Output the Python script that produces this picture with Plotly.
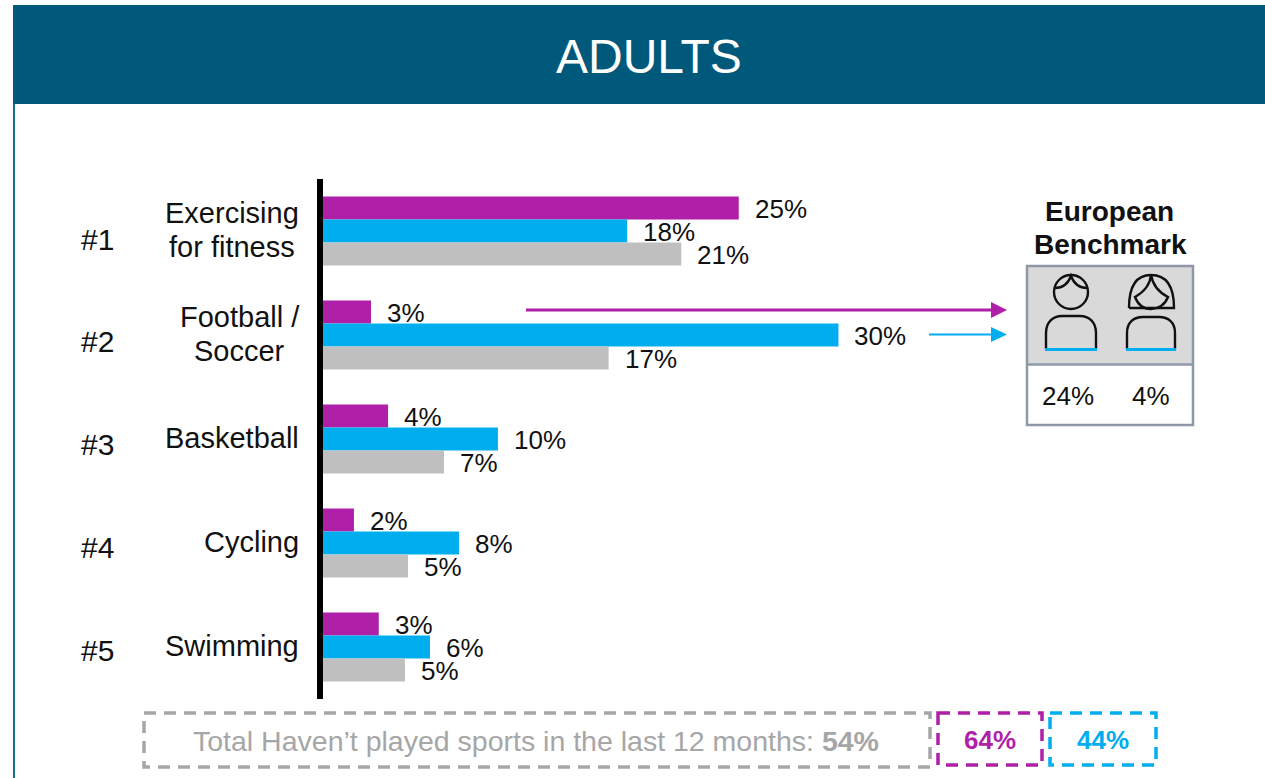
import plotly.graph_objects as go

categories = ["Exercising<br>for fitness", "Football /<br>Soccer", "Basketball", "Cycling", "Swimming"]
ranks = ["#1", "#2", "#3", "#4", "#5"]
purple_vals = [24.6, 2.84, 3.85, 1.83, 3.3]
blue_vals = [18.0, 30.5, 10.35, 8.05, 6.33]
gray_vals = [21.2, 16.9, 7.16, 5.03, 4.85]
purple_lbl = ["25%", "3%", "4%", "2%", "3%"]
blue_lbl = ["18%", "30%", "10%", "8%", "6%"]
gray_lbl = ["21%", "17%", "7%", "5%", "5%"]

W, H = 1265, 778
PURPLE, BLUE, GRAY = "#B01FA8", "#00AEEF", "#BFBFBF"
FONT = "Liberation Sans"
HEADER = "#00587A"
BORDER = "#8E98A8"
X = lambda p: p / W
Y = lambda p: 1 - p / H

fig = go.Figure()
for name, vals, col in [("Male", purple_vals, PURPLE), ("Female", blue_vals, BLUE), ("Total", gray_vals, GRAY)]:
    fig.add_bar(y=list(range(5)), x=vals, orientation="h", name=name, marker=dict(color=col, line_width=0))

ann = []
def text(px, py, s, size=26, color="#111111", anchor="center", bold=False):
    ann.append(dict(xref="paper", yref="paper", x=X(px), y=Y(py), text=f"<b>{s}</b>" if bold else s,
                    showarrow=False, xanchor=anchor, yanchor="middle", align="center",
                    font=dict(family=FONT, size=size, color=color)))

# value labels placed through the data axes
off = 23 / 104
for i in range(5):
    for vals, lbl, o in [(purple_vals, purple_lbl, -off), (blue_vals, blue_lbl, 0), (gray_vals, gray_lbl, off)]:
        ann.append(dict(xref="x", yref="y", x=vals[i], y=i + o, text=lbl[i], showarrow=False, xanchor="left",
                        yanchor="middle", xshift=14, yshift=-1, font=dict(family=FONT, size=26, color="#111111")))

# category labels
cx = [232, 239.5, 232, 251, 232]
for i, c in enumerate(categories):
    cy = 230 + 104 * i
    parts = c.split("<br>")
    if len(parts) == 2:
        text(cx[i], cy - 17, parts[0], 29)
        text(cx[i], cy + 17, parts[1], 29)
    else:
        text(301, cy, parts[0], 29, anchor="right")
for i, r in enumerate(ranks):
    text(97.5, 239 + 102.8 * i, r, 30)

text(648.5, 56, "ADULTS", 48, "#FFFFFF")
text(1109.5, 211, "European", 28, "#111111", bold=True)
text(1110, 245, "Benchmark", 28, "#111111", bold=True)
text(1067.5, 396, "24%", 26)
text(1151, 396, "4%", 26)
ann.append(dict(xref="paper", yref="paper", x=X(536), y=Y(741),
                text="Total Haven’t played sports in the last 12 months: <b>54%</b>", showarrow=False,
                xanchor="center", yanchor="middle", font=dict(family=FONT, size=28.5, color="#A6A6A6")))
text(990, 740, "64%", 26, PURPLE, bold=True)
text(1103, 740, "44%", 26, BLUE, bold=True)

shapes = []
def rect(x0, y0, x1, y1, fill=None, line=None, lw=0, dash="solid"):
    shapes.append(dict(type="rect", xref="paper", yref="paper", x0=X(x0), x1=X(x1), y0=Y(y0), y1=Y(y1),
                       fillcolor=fill or "rgba(0,0,0,0)", line=dict(color=line or "rgba(0,0,0,0)", width=lw, dash=dash)))
def path(pts, color="#111111", lw=2.4, fill=None):
    d = ""
    for cmd, *c in pts:
        d += cmd + " ".join(f"{X(c[j]):.5f},{Y(c[j+1]):.5f}" for j in range(0, len(c), 2)) + " "
    shapes.append(dict(type="path", xref="paper", yref="paper", path=d.strip() + (" Z" if fill else ""),
                       fillcolor=fill or "rgba(0,0,0,0)", line=dict(color=color, width=lw)))

# header and left rule
rect(13, 5, W, 104, fill=HEADER)
rect(13, 104, 15, H, fill="#1F6F8F")

# arrows
path([("M", 526, 310), ("L", 995, 310)], PURPLE, 3)
path([("M", 991, 302), ("L", 1007, 310), ("L", 991, 318)], PURPLE, 0, PURPLE)
path([("M", 929, 334.5), ("L", 995, 334.5)], BLUE, 2)
path([("M", 991, 327), ("L", 1007, 334.5), ("L", 991, 342)], BLUE, 0, BLUE)

# benchmark box
rect(1027, 266, 1193, 365, fill="#D9D9D9")
rect(1027, 266, 1193, 425, line=BORDER, lw=2.5)
path([("M", 1027, 364.5), ("L", 1193, 364.5)], BORDER, 2.5)

# male icon
shapes.append(dict(type="circle", xref="paper", yref="paper", x0=X(1054), x1=X(1088), y0=Y(275), y1=Y(309),
                   line=dict(color="#111111", width=2.4)))
path([("M", 1055, 288), ("C", 1062, 288, 1068, 284, 1071, 276), ("C", 1074, 284, 1080, 288, 1087, 288)])
path([("M", 1046, 349), ("L", 1046, 333), ("C", 1046, 322, 1053, 316, 1062, 316), ("L", 1080, 316),
      ("C", 1089, 316, 1096, 322, 1096, 333), ("L", 1096, 349)])
path([("M", 1045, 349.5), ("L", 1097, 349.5)], BLUE, 3)

# female icon
path([("M", 1129, 308), ("L", 1174, 308), ("C", 1174, 288, 1168, 275, 1151, 275), ("C", 1135, 275, 1129, 288, 1129, 308)])
path([("M", 1151, 275), ("C", 1150, 286, 1142, 293, 1135, 297), ("C", 1138, 305, 1144, 309, 1151, 309),
      ("C", 1158, 309, 1165, 305, 1168, 297), ("C", 1160, 293, 1153, 286, 1151, 275)])
path([("M", 1127, 349), ("L", 1127, 333), ("C", 1127, 322, 1134, 317, 1143, 317), ("L", 1159, 317),
      ("C", 1168, 317, 1175, 322, 1175, 333), ("L", 1175, 349)])
path([("M", 1126, 349.5), ("L", 1176, 349.5)], BLUE, 3)

# bottom dashed boxes
rect(144, 713, 930, 767, line="#A6A6A6", lw=3.5, dash="12px,8px")
rect(938, 713, 1042, 765, line=PURPLE, lw=3.5, dash="12px,8px")
rect(1050, 713, 1156, 765, line=BLUE, lw=3.5, dash="12px,8px")

scale = 16.9
fig.update_layout(
    width=W, height=H, margin=dict(l=0, r=0, t=0, b=0), paper_bgcolor="white", plot_bgcolor="white",
    showlegend=False, barmode="group", bargap=1 - 69 / 104, bargroupgap=0,
    xaxis=dict(domain=[X(323), 1], range=[0, (W - 323) / scale], visible=False, fixedrange=True),
    yaxis=dict(domain=[Y(699), Y(179)], range=[4.5, -0.5], tickmode="array", tickvals=[], showticklabels=False,
               showgrid=False, zeroline=False, showline=True, linecolor="black", linewidth=6, fixedrange=True),
    shapes=shapes, annotations=ann,
)
fig.write_html("out.html", config=dict(displayModeBar=False),
               post_script="document.body.style.margin='0';document.body.style.overflow='hidden';")
